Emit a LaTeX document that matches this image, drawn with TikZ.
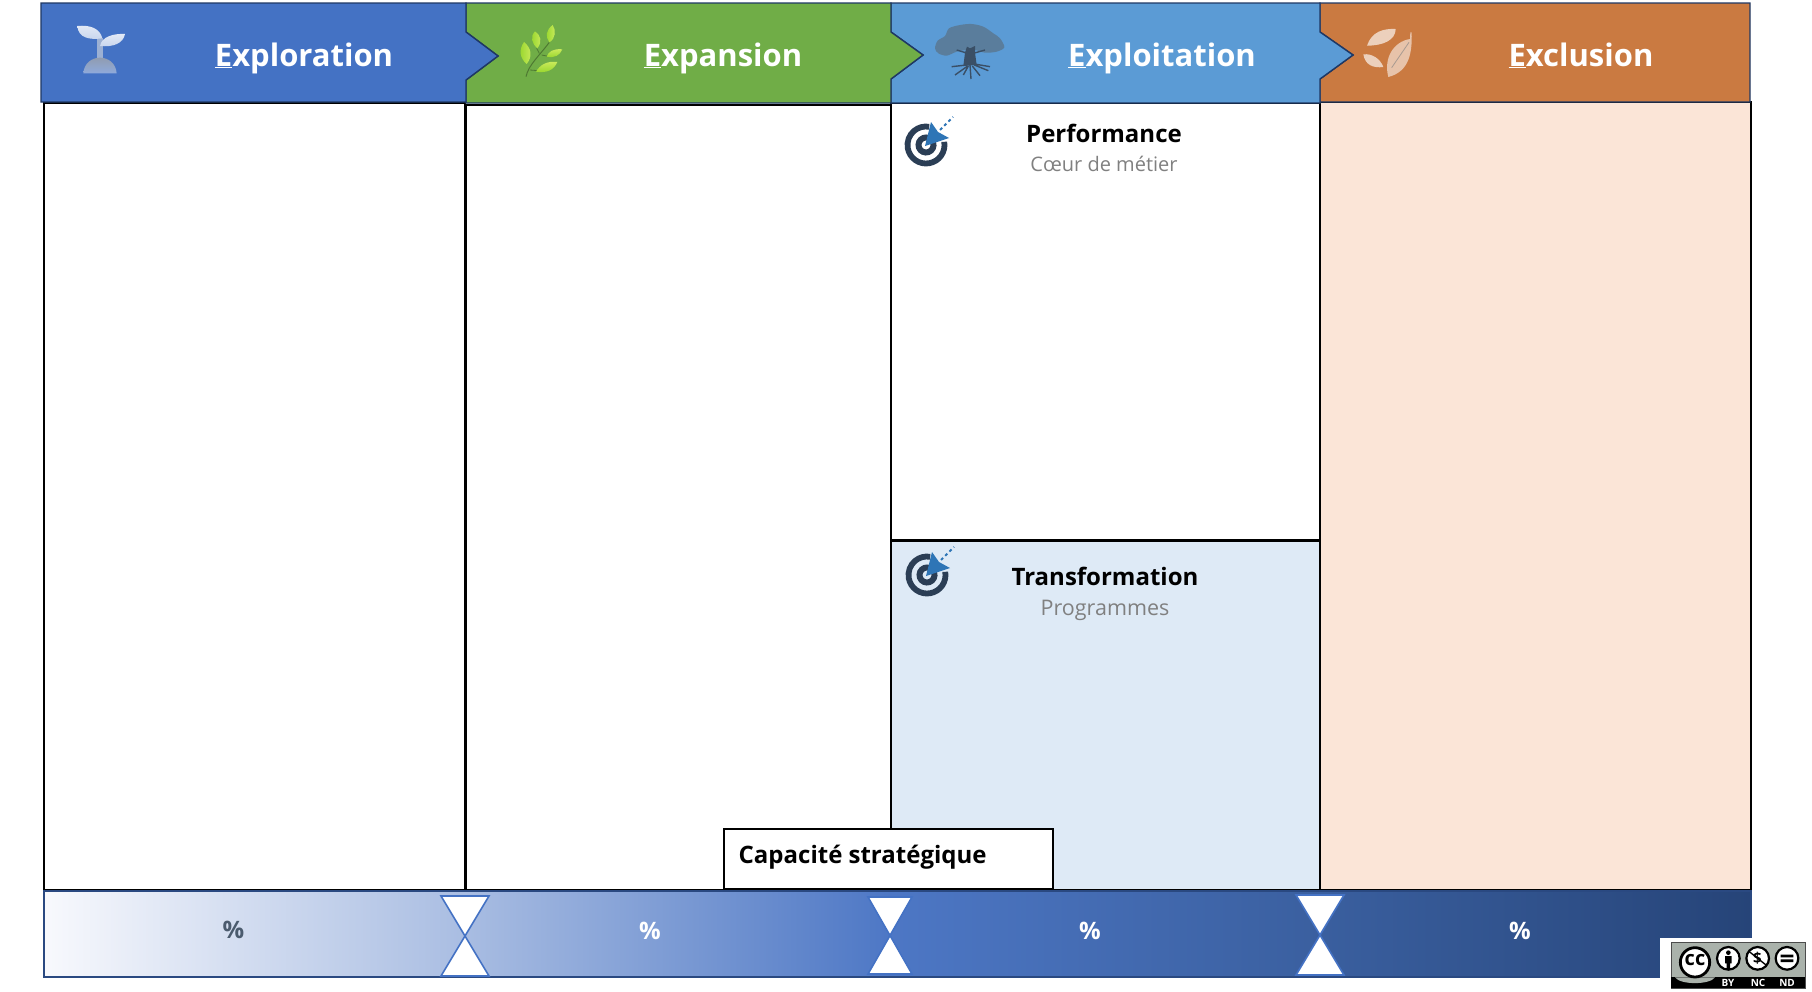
\documentclass[tikz,border=0pt]{standalone}
\usepackage{fontspec}
\setmainfont{Open Sans}
\usepackage{xcolor}
\usetikzlibrary{calc}

\definecolor{headBlue}{HTML}{4472C4}
\definecolor{headGreen}{HTML}{70AD47}
\definecolor{headSky}{HTML}{5B9BD5}
\definecolor{headOrange}{HTML}{CA7A41}
\definecolor{headLine}{HTML}{1F3864}
\definecolor{paleBlue}{HTML}{DEEAF6}
\definecolor{palePeach}{HTML}{FBE5D7}
\definecolor{targetDark}{HTML}{2B3E55}
\definecolor{targetBlue}{HTML}{2E75B6}
\definecolor{treeLeaf}{HTML}{5A7D9C}
\definecolor{treeWood}{HTML}{3A4F66}
\definecolor{ccGrey}{HTML}{AAB2AB}
\definecolor{leafDark}{HTML}{94D52A}
\definecolor{leafLight}{HTML}{CDEB5E}
\definecolor{barA}{HTML}{F8F9FD}
\definecolor{barB}{HTML}{A9BDE2}
\definecolor{barC}{HTML}{4D77C5}
\definecolor{barD}{HTML}{3A5F9F}
\definecolor{barE}{HTML}{264478}

\pgfdeclarehorizontalshading{capabar}{100bp}{color(0bp)=(barA); color(25bp)=(barA);
	color(37.3bp)=(barB); color(49.8bp)=(barC); color(62.4bp)=(barD);
	color(75bp)=(barE); color(100bp)=(barE)}

\tikzset{
	headshape/.style={draw=headLine, line width=1.4pt, line join=miter},
	headtext/.style={text=white, font=\fontsize{31}{34}\selectfont\bfseries, inner sep=0pt, anchor=base},
	colbox/.style={draw=black, line width=2pt, inner sep=0pt, outer sep=0pt, anchor=north west},
	boxtitle/.style={font=\fontsize{24}{27}\selectfont\bfseries, inner sep=0pt},
	boxsub/.style={text=black!50, inner sep=0pt},
	pct/.style={font=\fontsize{24}{28}\selectfont\bfseries, inner sep=0pt},
	hourglass/.style={fill=white, draw=headBlue, line width=1.6pt, line join=miter},
	bylabel/.style={text=white, font=\fontsize{10}{11}\selectfont\bfseries, inner sep=0pt},
	targeticon/.pic={
		\draw[targetDark, line width=5.8pt] (-10:18.5) arc (-10:280:18.5);
		\draw[targetDark, line width=6pt] (-20:7.5) arc (-20:290:7.5);
		\fill[targetBlue] (-1,1) -- (5,-23) -- (12,-13) -- (23,-7) -- cycle;
		\draw[targetBlue, line width=2pt, dash pattern=on 3pt off 3pt] (14,-15) -- (27,-28);
	}
}

\begin{document}
\begin{tikzpicture}[x=1pt,y=-1pt]
	\useasboundingbox (0,0) rectangle (1812,991);
	\fill[white] (0,0) rectangle (1812,991);

	% columns
	\node[colbox, fill=white, minimum width=421pt, minimum height=787pt] (colExploration) at (44,103) {};
	\node[colbox, fill=white, minimum width=425pt, minimum height=785pt] (colExpansion) at (466,105) {};
	\node[colbox, fill=white, minimum width=429pt, minimum height=437pt] (colPerformance) at (891,103) {};
	\node[colbox, fill=paleBlue, minimum width=429pt, minimum height=349pt] (colTransformation) at (891,541) {};
	\node[colbox, fill=palePeach, minimum width=431pt, minimum height=788pt] (colExclusion) at (1320,102) {};

	% bar
	\node[draw=headLine!70!headBlue, line width=1.4pt, shading=capabar, inner sep=0pt, outer sep=0pt, anchor=north west, minimum width=1707pt, minimum height=86pt] (capaBar) at (44,891) {};
	\draw[hourglass] (441,896) -- (489,896) -- (441,976) -- (489,976) -- cycle;
	\draw[hourglass] (868,897) -- (912,897) -- (868,974) -- (912,974) -- cycle;
	\draw[hourglass] (1296,895) -- (1344,895) -- (1296,975) -- (1344,975) -- cycle;
	\node[pct, text=targetDark!85!white] (pctA) at (233.5,930) {\%};
	\node[pct, text=white] (pctB) at (650,931) {\%};
	\node[pct, text=white] (pctC) at (1090,931) {\%};
	\node[pct, text=white] (pctD) at (1520,931) {\%};

	\node[colbox, fill=white, minimum width=329.5pt, minimum height=60pt] (capaBox) at (723.5,829) {};
	\node[boxtitle, anchor=west] (capaText) at (738.5,857) {Capacité stratégique};

	% headers, right to left so that each point lies on the next one
	\draw[headshape, fill=headOrange] (1320,3) -- (1750,3) -- (1750,102) -- (1320,102) -- (1320,79) -- (1353,55) -- (1320,32) -- cycle;
	\draw[headshape, fill=headSky] (891,3) -- (1320,3) -- (1320,32) -- (1353,55) -- (1320,79) -- (1320,103) -- (891,103) -- (891,79) -- (923,55) -- (891,32) -- cycle;
	\draw[headshape, fill=headGreen] (466,3) -- (891,3) -- (891,32) -- (923,55) -- (891,79) -- (891,103) -- (466,103) -- (466,80) -- (498,56) -- (466,32) -- cycle;
	\draw[headshape, fill=headBlue] (41,3) -- (466,3) -- (466,32) -- (498,56) -- (466,80) -- (466,102) -- (41,102) -- cycle;
	\node[headtext] (titleExploration) at (304,66) {\underline{E}xploration};
	\node[headtext] (titleExpansion) at (723,66) {\underline{E}xpansion};
	\node[headtext] (titleExploitation) at (1162,66) {\underline{E}xploitation};
	\node[headtext] (titleExclusion) at (1581,66) {\underline{E}xclusion};

	% sprout
	\begin{scope}[shift={(60,10)},scale=1/3]
		\fill[black!15!headBlue!50!white] (112,85) rectangle (128,145);
		\shade[top color=white!85!headBlue, bottom color=white!70!headBlue] (52,48) .. controls (90,44) and (120,55) .. (127,85) .. controls (90,90) and (55,85) .. (52,48) -- cycle;
		\shade[top color=white!85!headBlue, bottom color=white!70!headBlue] (195,72) .. controls (190,100) and (160,112) .. (120,108) .. controls (125,80) and (160,70) .. (195,72) -- cycle;
		\shade[top color=headBlue!50!black!50!white, bottom color=headBlue!60!white] (70,190) .. controls (72,160) and (95,143) .. (120,143) .. controls (145,143) and (168,160) .. (170,190) -- cycle;
	\end{scope}

	% sprig
	\begin{scope}[shift={(510,10)},scale=1/3]
		\draw[headGreen!70!black, line width=1pt] (48,200) .. controls (55,165) and (90,135) .. (118,97);
		\draw[headGreen!70!black, line width=0.8pt] (80,115) -- (88,130) (95,135) -- (120,140) (60,180) -- (85,182);
		\shade[left color=leafDark, right color=leafLight] (42,96) .. controls (25,120) and (30,145) .. (50,162) .. controls (68,140) and (65,115) .. (42,96) -- cycle;
		\shade[left color=leafDark, right color=leafLight] (75,64) .. controls (60,80) and (65,100) .. (82,115) .. controls (98,95) and (92,75) .. (75,64) -- cycle;
		\shade[left color=leafDark, right color=leafLight] (128,45) .. controls (108,60) and (105,80) .. (118,97) .. controls (138,85) and (138,60) .. (128,45) -- cycle;
		\shade[top color=leafLight, bottom color=leafDark] (157,118) .. controls (130,115) and (115,125) .. (110,140) .. controls (135,145) and (150,135) .. (157,118) -- cycle;
		\shade[top color=leafLight, bottom color=leafDark] (142,156) .. controls (110,152) and (90,165) .. (78,185) .. controls (110,190) and (132,180) .. (142,156) -- cycle;
	\end{scope}

	% tree
	\begin{scope}[shift={(925,10)},scale=1/3]
		\fill[treeLeaf] plot[smooth cycle] coordinates {(30,115) (38,92) (60,78) (72,55) (105,45) (140,42) (175,50) (205,70) (225,85) (238,112) (215,125) (180,128) (150,120) (125,120) (95,125) (65,137) (40,130)};
		\fill[treeWood] (120,128) -- (126,110) -- (135,115) -- (150,108) -- (150,128) -- (155,165) -- (115,168) -- cycle;
		\draw[treeWood, line width=1.4pt] (95,120) -- (128,130) (180,120) -- (145,130);
		\draw[treeWood, line width=1.4pt] (125,165) -- (80,170) (128,168) -- (90,195) (130,168) -- (115,195) (135,165) -- (138,207) (142,168) -- (165,197) (148,165) -- (190,182) (148,162) -- (195,170);
	\end{scope}

	% autumn leaves
	\begin{scope}[shift={(1355,15)},scale=1/3]
		\fill[white!65!headOrange] (36,92) .. controls (50,50) and (85,40) .. (122,42) .. controls (122,75) and (85,92) .. (36,92) -- cycle;
		\fill[white!65!headOrange] (25,118) .. controls (50,115) and (75,130) .. (85,156) .. controls (55,160) and (30,150) .. (25,118) -- cycle;
		\fill[white!55!headOrange] (100,186) .. controls (85,130) and (115,80) .. (165,72) -- (166,52) -- (170,52) .. controls (172,120) and (160,170) .. (100,186) -- cycle;
		\draw[white!75!headOrange!70!black, line width=0.8pt] (110,158) -- (162,82);
	\end{scope}

	\node[boxtitle] (titlePerformance) at (1104,133) {Performance};
	\node[boxsub, font=\fontsize{20}{24}\selectfont] (subPerformance) at (1104,164) {Cœur de métier};
	\pic (targetPerformance) at (926,145) {targeticon};
	\node[boxtitle] (titleTransformation) at (1105,576) {Transformation};
	\node[boxsub, font=\fontsize{21.5}{24}\selectfont] (subTransformation) at (1105,610) {Programmes};
	\pic (targetTransformation) at (927,575) {targeticon};

	% licence badge
	\fill[white] (1660,938) rectangle (1812,991);
	\begin{scope}[shift={(1660,930)},scale=1/3]
		\fill[ccGrey, draw=black!70, line width=0.5pt] (33,38) rectangle (435,175);
		\fill[black] (33,142) rectangle (435,175);
		\fill[ccGrey] (45,142) .. controls (60,165) and (150,165) .. (165,142) -- cycle;
		\draw[black, line width=2.8pt, fill=white] (105,97) circle (44);
		\draw[black, line width=2.2pt, fill=white] (205,85) circle (34);
		\draw[black, line width=2.2pt, fill=white] (293,85) circle (34);
		\draw[black, line width=2.2pt, fill=white] (381,85) circle (34);
		\fill[black] (205,68) circle (7) (195,78) rectangle (215,100) (200,100) rectangle (210,118);
		\draw[black, line width=1.4pt] (268,65) -- (318,105);
		\fill[black] (362,74) rectangle (400,82) (362,88) rectangle (400,96);
	\end{scope}
	\node[font=\fontsize{20}{21}\selectfont\bfseries, inner sep=0pt] (ccText) at (1695,960) {cc};
	\node[font=\fontsize{15}{16}\selectfont\bfseries, inner sep=0pt] (ncText) at (1757.5,958) {\$};
	\node[bylabel] (byText) at (1728,982.5) {BY};
	\node[bylabel] (ncLabel) at (1758,982.5) {NC};
	\node[bylabel] (ndText) at (1787,982.5) {ND};
\end{tikzpicture}
\end{document}
